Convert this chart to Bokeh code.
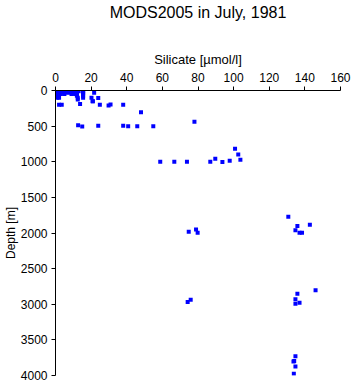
from bokeh.plotting import figure
from bokeh.models import Range1d, LinearAxis, FixedTicker, Title
from bokeh.embed import file_html
from bokeh.resources import INLINE

# Silicate [umol/l] and depth [m]
silicate = [
    0.5, 1.5, 2.5, 3.5, 5, 6, 7, 8, 9, 10, 11, 15.5,
    1, 2, 4, 6, 8, 9.5, 11, 13,
    0.5, 2, 3, 5, 7, 8.5, 10, 12, 15.5,
    1, 3, 6, 8, 10, 11, 15.5, 21.7,
    0.5, 1.5, 3, 5, 9, 11, 12, 15.5,
    0.5, 1.5, 12, 15.5,
    1, 2, 12.5, 15.5, 20.2, 24,
    12.5, 20.8, 21,
    2, 3.5, 13.8, 24.9, 29.8, 30.9, 38,
    48,
    78,
    12.7, 15, 24, 38, 40.8, 45.9, 54.9,
    100.8, 102.6,
    58.8, 66.7, 73.8, 86.9, 89.7, 93.7, 97.8, 103.8,
    130.7,
    135.8, 142.8, 134.7, 137, 138.4, 74.8, 78.9, 79.8,
    146, 135.8, 134.7, 134.7, 137, 74.2, 75.9,
    134.7, 134, 133.6, 134.7, 133.8,
]
depth = [
    0, 0, 0, 0, 0, 0, 0, 0, 0, 0, 0, 0,
    10, 10, 10, 10, 10, 10, 10, 10,
    20, 20, 20, 20, 20, 20, 20, 20, 20,
    30, 30, 30, 30, 30, 30, 30, 33,
    50, 50, 50, 50, 50, 50, 50, 50,
    75, 75, 75, 75,
    100, 100, 100, 100, 100, 107,
    125, 150, 150,
    200, 200, 190, 200, 210, 196, 200,
    304,
    440,
    486, 505, 495, 495, 500, 500, 500,
    818, 898,
    1000, 1000, 1000, 1000, 958, 1005, 986, 972,
    1771,
    1903, 1884, 1963, 1996, 1996, 1982, 1950, 1996,
    2805, 2852, 2931, 2992, 2978, 2969, 2936,
    3731, 3796, 3804, 3875, 3974,
]

x_ticks = [0, 20, 40, 60, 80, 100, 120, 140, 160]
y_ticks = [0, 500, 1000, 1500, 2000, 2500, 3000, 3500, 4000]

FONT = "Liberation Sans"

p = figure(width=351, height=384, output_backend="svg", toolbar_location=None,
           x_range=Range1d(0, 160), y_range=Range1d(4000, 0),
           x_axis_location=None, y_axis_location=None,
           min_border_left=54, min_border_right=11,
           min_border_top=90, min_border_bottom=9)
p.outline_line_color = None
p.xgrid.visible = False
p.ygrid.visible = False
p.background_fill_color = "white"
p.border_fill_color = "white"

xa = LinearAxis(axis_label="Silicate [\u00b5mol/l]", ticker=FixedTicker(ticks=x_ticks))
ya = LinearAxis(axis_label="Depth [m]", ticker=FixedTicker(ticks=y_ticks))
for ax in (xa, ya):
    ax.axis_label_text_font = FONT
    ax.axis_label_text_font_style = "normal"
    ax.major_label_text_font = FONT
    ax.major_label_text_font_size = "12px"
    ax.minor_tick_line_color = None
    ax.major_tick_out = 4
    ax.major_tick_in = 0
    ax.axis_line_color = "black"
    ax.major_tick_line_color = "black"
    ax.major_label_text_color = "black"
    ax.axis_label_text_color = "black"
xa.axis_label_text_font_size = "13px"
ya.axis_label_text_font_size = "12px"
xa.major_label_standoff = 5
xa.axis_label_standoff = 3
ya.major_label_standoff = 4
ya.axis_label_standoff = 0
p.add_layout(xa, "above")

spacer = Title(text=" ", text_font_size="1px", standoff=25)
p.add_layout(spacer, "above")

t = Title(text="MODS2005 in July, 1981", align="center", text_font=FONT,
          text_font_size="16px", text_font_style="normal", text_color="black",
          standoff=0)
p.add_layout(t, "above")
p.add_layout(ya, "left")

p.scatter(silicate, depth, marker="square", size=4, color="#0000ff", line_width=0)

open("out.html", "w").write(file_html(p, INLINE))
